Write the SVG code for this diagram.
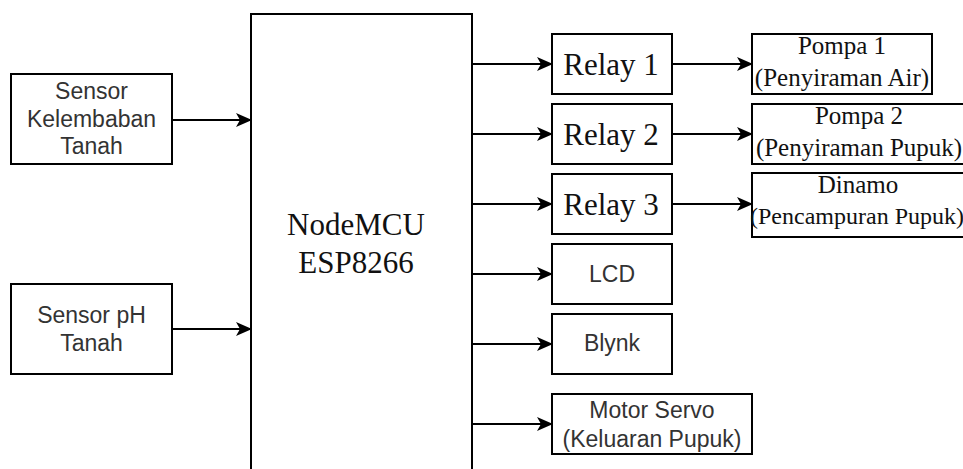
<svg xmlns="http://www.w3.org/2000/svg" width="963" height="469" viewBox="0 0 963 469">
<style>
  .box { fill: #ffffff; stroke: #000000; stroke-width: 2; }
  .sans { font-family: "Liberation Sans", Arial, sans-serif; font-size: 23px; fill: #333333; text-anchor: middle; }
  .serif { font-family: "Liberation Serif", "Times New Roman", serif; fill: #111111; text-anchor: middle; }
  .big { font-size: 31px; }
  .small { font-size: 25px; }
  .conn { stroke: #000000; stroke-width: 2; fill: none; marker-end: url(#arr); }
</style>
<defs>
  <marker id="arr" markerWidth="16" markerHeight="14" refX="15" refY="7" orient="auto" markerUnits="userSpaceOnUse">
    <path d="M0,0 L16,7 L0,14 L4,7 Z" fill="#000000"/>
  </marker>
</defs>
<rect width="963" height="469" fill="#ffffff"/>

<g id="connectors">
  <line class="conn" x1="172" y1="120" x2="251" y2="120"/>
  <line class="conn" x1="172" y1="329" x2="251" y2="329"/>
  <line class="conn" x1="472" y1="64" x2="552" y2="64"/>
  <line class="conn" x1="472" y1="134" x2="552" y2="134"/>
  <line class="conn" x1="472" y1="204" x2="552" y2="204"/>
  <line class="conn" x1="472" y1="274" x2="552" y2="274"/>
  <line class="conn" x1="472" y1="344" x2="552" y2="344"/>
  <line class="conn" x1="472" y1="424" x2="552" y2="424"/>
  <line class="conn" x1="672" y1="64" x2="752" y2="64"/>
  <line class="conn" x1="672" y1="134" x2="752" y2="134"/>
  <line class="conn" x1="672" y1="204" x2="752" y2="204"/>
</g>

<g id="sensor-kelembaban">
  <rect class="box" x="11" y="74" width="161" height="90"/>
  <text class="sans" x="91.5" y="99">Sensor</text>
  <text class="sans" x="91.5" y="127">Kelembaban</text>
  <text class="sans" x="91.5" y="154">Tanah</text>
</g>

<g id="sensor-ph">
  <rect class="box" x="11" y="284" width="161" height="90"/>
  <text class="sans" x="91.5" y="323">Sensor pH</text>
  <text class="sans" x="91.5" y="351">Tanah</text>
</g>

<g id="nodemcu">
  <rect class="box" x="251" y="14" width="221" height="470"/>
  <text class="serif big" x="356" y="235">NodeMCU</text>
  <text class="serif big" x="356" y="273">ESP8266</text>
</g>

<g id="relay1">
  <rect class="box" x="552" y="34" width="120" height="60"/>
  <text class="serif big" x="611" y="75">Relay 1</text>
</g>
<g id="relay2">
  <rect class="box" x="552" y="104" width="120" height="60"/>
  <text class="serif big" x="611" y="145">Relay 2</text>
</g>
<g id="relay3">
  <rect class="box" x="552" y="174" width="120" height="60"/>
  <text class="serif big" x="611" y="215">Relay 3</text>
</g>
<g id="lcd">
  <rect class="box" x="552" y="244" width="120" height="60"/>
  <text class="sans" x="612" y="282">LCD</text>
</g>
<g id="blynk">
  <rect class="box" x="552" y="314" width="120" height="60"/>
  <text class="sans" x="612" y="351">Blynk</text>
</g>
<g id="motor-servo">
  <rect class="box" x="552" y="394" width="200" height="60"/>
  <text class="sans" x="652" y="418">Motor Servo</text>
  <text class="sans" x="652" y="447">(Keluaran Pupuk)</text>
</g>

<g id="pompa1">
  <rect class="box" x="752" y="34" width="180" height="60"/>
  <text class="serif small" x="842" y="54">Pompa 1</text>
  <text class="serif small" x="842" y="86">(Penyiraman Air)</text>
</g>
<g id="pompa2">
  <rect class="box" x="752" y="104" width="220" height="60"/>
  <text class="serif small" x="859" y="124">Pompa 2</text>
  <text class="serif small" x="859" y="156">(Penyiraman Pupuk)</text>
</g>
<g id="dinamo">
  <rect class="box" x="752" y="173" width="220" height="64"/>
  <text class="serif small" x="858" y="193">Dinamo</text>
  <text class="serif" x="857" y="224" font-size="24">(Pencampuran Pupuk)</text>
</g>
</svg>
